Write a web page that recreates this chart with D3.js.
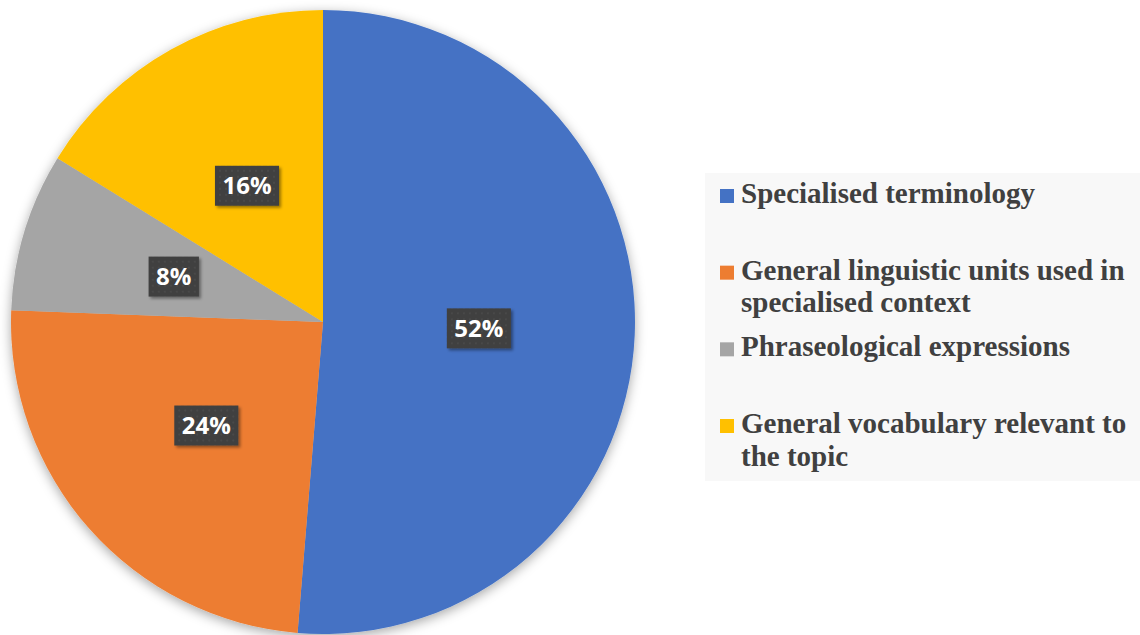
<!DOCTYPE html>
<html>
<head>
<meta charset="utf-8">
<script src="https://cdn.jsdelivr.net/npm/d3@7"></script>
<style>
  body { margin: 0; background: #fff; }
  svg { display: block; }
</style>
</head>
<body>
<div id="chart"></div>
<script>
const categories = [
  "Specialised terminology",
  "General linguistic units used in specialised context",
  "Phraseological expressions",
  "General vocabulary relevant to the topic"
];
const shares = [51.3, 24.3, 8.2, 16.2];
const pctLabels = ["52%", "24%", "8%", "16%"];
const colors = ["#4472C4", "#ED7D31", "#A5A5A5", "#FFC000"];

const width = 1140, height = 635;
const cx = 323, cy = 322, radius = 312;

const svg = d3.select("#chart").append("svg")
  .attr("width", width)
  .attr("height", height);

const defs = svg.append("defs");
const pieShadow = defs.append("filter").attr("id", "pieShadow")
  .attr("x", "-10%").attr("y", "-10%").attr("width", "120%").attr("height", "120%");
pieShadow.append("feDropShadow")
  .attr("dx", 0).attr("dy", 3).attr("stdDeviation", 6)
  .attr("flood-color", "#000").attr("flood-opacity", 0.35);

const boxShadow = defs.append("filter").attr("id", "boxShadow")
  .attr("x", "-30%").attr("y", "-30%").attr("width", "160%").attr("height", "160%");
boxShadow.append("feDropShadow")
  .attr("dx", 2).attr("dy", 2).attr("stdDeviation", 1.5)
  .attr("flood-color", "#000").attr("flood-opacity", 0.4);

// faint dotted texture on the label boxes
const pat = defs.append("pattern").attr("id", "dots")
  .attr("width", 6).attr("height", 6).attr("patternUnits", "userSpaceOnUse");
pat.append("rect").attr("width", 6).attr("height", 6).attr("fill", "#404040");
pat.append("circle").attr("cx", 3).attr("cy", 3).attr("r", 1).attr("fill", "#4a4a4a");

const pie = d3.pie().sort(null).value(d => d);
const arcs = pie(shares);
const arc = d3.arc().innerRadius(0).outerRadius(radius);
const labelArc = d3.arc().innerRadius(radius * 0.5).outerRadius(radius * 0.5);

const g = svg.append("g").attr("transform", `translate(${cx},${cy})`);

g.append("g")
  .attr("filter", "url(#pieShadow)")
  .selectAll("path")
  .data(arcs)
  .join("path")
  .attr("d", arc)
  .attr("fill", (d, i) => colors[i]);

// data labels in dark boxes
const labels = g.selectAll(".lbl")
  .data(arcs)
  .join("g")
  .attr("class", "lbl")
  .attr("transform", d => `translate(${labelArc.centroid(d)})`);

labels.each(function (d, i) {
  const lg = d3.select(this);
  const box = lg.append("rect");
  const t = lg.append("text")
    .attr("text-anchor", "middle")
    .attr("dy", "0.36em")
    .style("font-family", "'Open Sans', sans-serif")
    .style("font-weight", "bold")
    .style("font-size", "24px")
    .attr("fill", "#fff")
    .text(pctLabels[i]);
  const bb = t.node().getBBox();
  const w = bb.width + 15, h = 40;
  box.attr("x", -w / 2).attr("y", -h / 2)
    .attr("width", w).attr("height", h)
    .attr("fill", "url(#dots)")
    .attr("filter", "url(#boxShadow)");
});

// legend
const legend = svg.append("g").attr("class", "legend");
legend.append("rect")
  .attr("x", 705).attr("y", 173)
  .attr("width", 435).attr("height", 308)
  .attr("fill", "#f8f8f8");

const itemY = d3.scaleLinear().domain([0, 3]).range([203, 433]);
const maxTextWidth = 396;

categories.forEach((name, i) => {
  const y = itemY(i);
  legend.append("rect")
    .attr("x", 720).attr("y", y - 14)
    .attr("width", 14).attr("height", 14)
    .attr("fill", colors[i]);

  const text = legend.append("text")
    .attr("x", 741).attr("y", y)
    .style("font-family", "'Liberation Serif', 'Times New Roman', serif")
    .style("font-weight", "bold")
    .style("font-size", "29px")
    .attr("fill", "#404040");

  // wrap words into lines
  const words = name.split(" ");
  let line = [];
  let lineNo = 0;
  let tspan = text.append("tspan").attr("x", 741).attr("y", y);
  words.forEach(w => {
    line.push(w);
    tspan.text(line.join(" "));
    if (tspan.node().getComputedTextLength() > maxTextWidth && line.length > 1) {
      line.pop();
      tspan.text(line.join(" "));
      line = [w];
      lineNo += 1;
      tspan = text.append("tspan").attr("x", 741).attr("y", y + lineNo * 32.5).text(w);
    }
  });
});
</script>
</body>
</html>
